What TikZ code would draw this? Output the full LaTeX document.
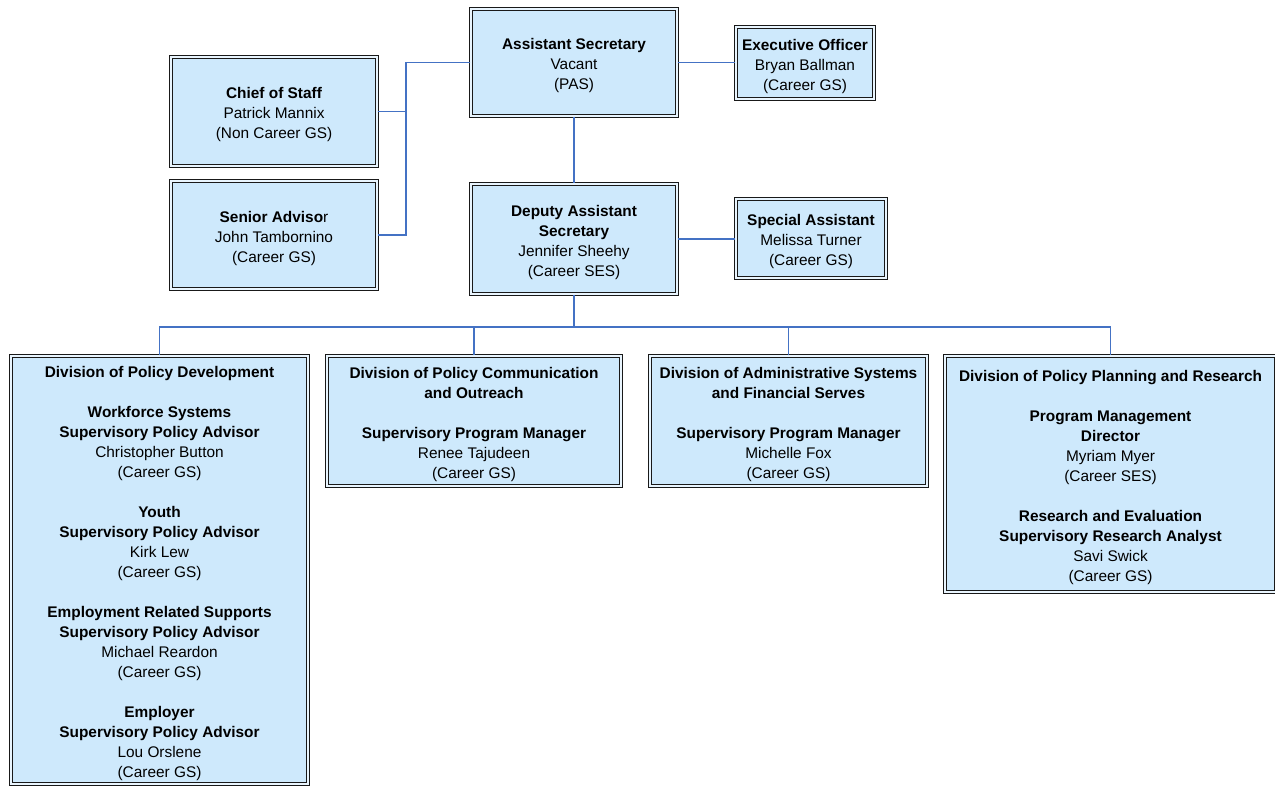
\documentclass[tikz,border=0pt]{standalone}
\usepackage{fontspec}
\setmainfont{Liberation Sans}
\definecolor{boxfill}{RGB}{206,233,252}
\definecolor{linkblue}{RGB}{68,114,196}
\newcommand\hd[1]{\rule{0pt}{17.5pt}\textbf{#1}}
\newcommand\hb[1]{\textbf{#1}}
\tikzset{
  orgbox/.style={draw=black!90, line width=1pt, double=white!55!boxfill, double distance=1.7pt,
    fill=boxfill, align=center, inner sep=0pt, font=\fontsize{15.4}{20}\selectfont},
  conn/.style={draw=linkblue, line width=1.4pt}
}
\begin{document}
\begin{tikzpicture}[x=1pt,y=-1pt]
\useasboundingbox (0,0) rectangle (1275,786);
% top row
\node[orgbox, minimum width=206.2pt, minimum height=107.2pt] (AS) at (574,62.5)
  {\hd{Assistant Secretary}\\Vacant\\(PAS)};
\node[orgbox, minimum width=138.2pt, minimum height=72.2pt] (EO) at (805,63)
  {\hd{Executive Officer}\\Bryan Ballman\\(Career GS)};
\node[orgbox, minimum width=206.2pt, minimum height=109.2pt] (CoS) at (274,111.5)
  {\hd{Chief of Staff}\\Patrick Mannix\\(Non Career GS)};
\node[orgbox, minimum width=206.2pt, minimum height=108.2pt] (SAdv) at (274,235)
  {\hd{Senior Adviso}r\\John Tambornino\\(Career GS)};
\node[orgbox, minimum width=206.2pt, minimum height=110.2pt] (DAS) at (574,239)
  {\hd{Deputy Assistant}\\\hb{Secretary}\\Jennifer Sheehy\\(Career SES)};
\node[orgbox, minimum width=150.2pt, minimum height=79.2pt] (SpA) at (811,238.5)
  {\hd{Special Assistant}\\Melissa Turner\\(Career GS)};
% divisions
\node[orgbox, minimum width=297.2pt, minimum height=428.2pt] (DPD) at (159.5,570)
  {\hd{Division of Policy Development}\\[20pt]
   \hb{Workforce Systems}\\\hb{Supervisory Policy Advisor}\\Christopher Button\\(Career GS)\\[20pt]
   \hb{Youth}\\\hb{Supervisory Policy Advisor}\\Kirk Lew\\(Career GS)\\[20pt]
   \hb{Employment Related Supports}\\\hb{Supervisory Policy Advisor}\\Michael Reardon\\(Career GS)\\[20pt]
   \hb{Employer}\\\hb{Supervisory Policy Advisor}\\Lou Orslene\\(Career GS)};
\node[orgbox, minimum width=294.2pt, minimum height=130.2pt] (DPCO) at (474,421)
  {\hd{Division of Policy Communication}\\\hb{and Outreach}\\[20pt]
   \hb{Supervisory Program Manager}\\Renee Tajudeen\\(Career GS)};
\node[orgbox, minimum width=277.2pt, minimum height=130.2pt] (DASFS) at (788.5,421)
  {\hd{Division of Administrative Systems}\\\hb{and Financial Serves}\\[20pt]
   \hb{Supervisory Program Manager}\\Michelle Fox\\(Career GS)};
\node[orgbox, minimum width=331.2pt, minimum height=236.2pt] (DPPR) at (1110.5,474)
  {\hd{Division of Policy Planning and Research}\\[20pt]
   \hb{Program Management}\\\hb{Director}\\Myriam Myer\\(Career SES)\\[20pt]
   \hb{Research and Evaluation}\\\hb{Supervisory Research Analyst}\\Savi Swick\\(Career GS)};
% connectors
\coordinate (jl) at (406,62.5);
\coordinate (bus) at (574,327);
\draw[conn] (AS.west) -- (jl) |- (SAdv.east);
\draw[conn] (CoS.east) -- (CoS.east -| jl);
\draw[conn] (AS.east) -- (AS.east -| EO.west);
\draw[conn] (AS.south) -- (DAS.north);
\draw[conn] (DAS.east) -- (DAS.east -| SpA.west);
\draw[conn] (DAS.south) -- (bus);
\draw[conn] (DPD.north) |- (bus) -| (DPPR.north);
\draw[conn] (DPCO.north) -- (DPCO.north |- bus);
\draw[conn] (DASFS.north) -- (DASFS.north |- bus);
\end{tikzpicture}
\end{document}
